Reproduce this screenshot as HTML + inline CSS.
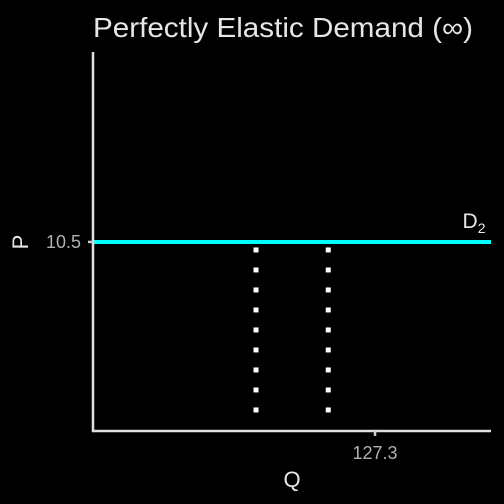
<!DOCTYPE html>
<html><head><meta charset="utf-8"><style>
body{margin:0;background:#000;width:504px;height:504px;overflow:hidden}
svg{display:block;font-family:"Liberation Sans",sans-serif}
</style></head><body>
<svg width="504" height="504">
<rect width="504" height="504" fill="#000"/>
<text x="283" y="37" text-anchor="middle" font-size="28" textLength="380" lengthAdjust="spacingAndGlyphs" fill="#e6e6e6">Perfectly Elastic Demand (∞)</text>
<g id="plot"></g>
</svg>
<script>
const priceLevel=[10.5];
const dottedQ=[110,120.5];
const xTicks=[127.3];
const yTicks=[10.5];
const xMin=86.3,xMax=144.16; // Q domain
const yMin=0,yMax=21.05;
const L=93,R=491,T=52,B=431;
const xs=q=>L+(q-xMin)/(xMax-xMin)*(R-L);
const ys=p=>B-(p-yMin)/(yMax-yMin)*(B-T);
const ns="http://www.w3.org/2000/svg";
const g=document.getElementById('plot');
function mk(t,a){const e=document.createElementNS(ns,t);for(const k in a)e.setAttribute(k,a[k]);g.appendChild(e);return e;}
dottedQ.forEach(q=>{
 const x=xs(q);
 for(let y=ys(priceLevel[0])+8;y<=412;y+=20){
  const d=mk('rect',{x:x-2.5,y:y-2.5,width:5,height:5,fill:'#fff'});
  
  
 }
});
const dl=mk('line',{x1:L,x2:R,y1:ys(priceLevel[0]),y2:ys(priceLevel[0]),stroke:'#00ffff','stroke-width':4});


const lb=mk('text',{x:474,y:ys(priceLevel[0])-14,'font-size':21,fill:'#e6e6e6','text-anchor':'middle'});
lb.innerHTML='D<tspan font-size="14" dy="5">2</tspan>';


const ya=mk('line',{x1:L,x2:L,y1:T,y2:B+1,stroke:'#e0e0e0','stroke-width':2.5});


const xa=mk('line',{x1:L-1,x2:R,y1:B,y2:B,stroke:'#e0e0e0','stroke-width':2.5});


xTicks.forEach(v=>{
 const t=mk('line',{x1:xs(v),x2:xs(v),y1:B,y2:B+5,stroke:'#ccc','stroke-width':2.5});
 
 
 const l=mk('text',{x:xs(v),y:B+28,'font-size':18,fill:'#b0b0b0','text-anchor':'middle'});
 l.textContent=v;
 
 
});
yTicks.forEach(v=>{
 const t=mk('line',{x1:L-5,x2:L,y1:ys(v),y2:ys(v),stroke:'#ccc','stroke-width':2.5});
 
 
 const l=mk('text',{x:L-12,y:ys(v)+6,'font-size':18,fill:'#b0b0b0','text-anchor':'end'});
 l.textContent=v;
 
 
});
const xt=mk('text',{x:292,y:487,'font-size':22,fill:'#e6e6e6','text-anchor':'middle'});
xt.textContent='Q';


const yt=mk('text',{x:0,y:0,'font-size':22,fill:'#e6e6e6','text-anchor':'middle',transform:'translate(28,242) rotate(-90)'});
yt.textContent='P';


</script>
</body></html>
